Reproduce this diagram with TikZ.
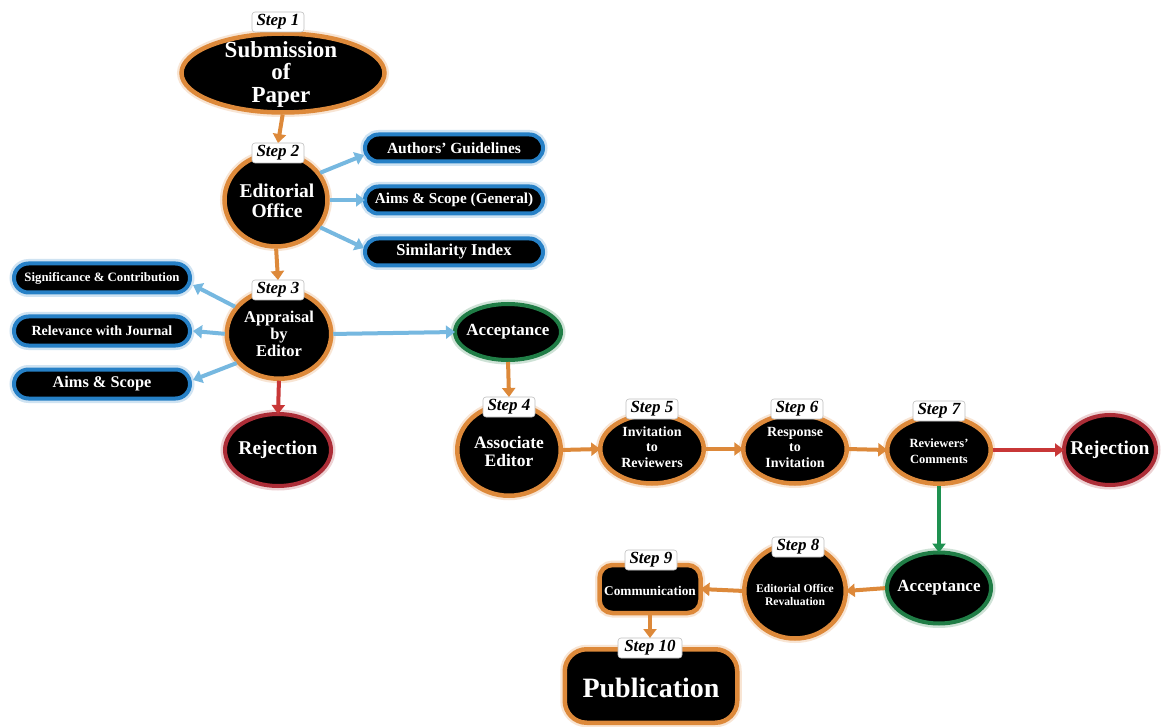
\documentclass[tikz,border=0pt]{standalone}
\usepackage{fontspec}
\setmainfont{Liberation Serif}
\usetikzlibrary{arrows.meta,shapes.geometric,shapes.misc,calc}
\definecolor{ora}{RGB}{221,137,58}
\definecolor{arrblue}{RGB}{118,184,224}
\definecolor{pillblue}{RGB}{38,128,198}
\definecolor{grn}{RGB}{32,125,70}
\definecolor{grnarr}{RGB}{30,145,80}
\definecolor{redb}{RGB}{172,45,55}
\definecolor{redarr}{RGB}{200,55,55}
\tikzset{
  every node/.style={inner sep=0pt, outer sep=0pt},
  halo/.style={preaction={draw=#1!22, line width=9pt}},
  stepcirc/.style={ellipse, fill=black, draw=ora, line width=4.5pt, halo=ora},
  acccirc/.style={ellipse, fill=black, draw=grn, line width=4pt, halo=grn},
  rejcirc/.style={ellipse, fill=black, draw=redb, line width=4pt, halo=redb},
  stepbox/.style={rectangle, fill=black, draw=ora, line width=4.5pt, halo=ora},
  pill/.style={rounded rectangle, fill=black, draw=pillblue, line width=4pt, halo=pillblue},
  txtw/.style={text=white, align=center},
  steplab/.style={fill=white, draw=black!25, line width=0.6pt, rounded corners=3pt,
    minimum width=52pt, minimum height=20pt,
    font=\fontsize{17}{17}\selectfont\bfseries\itshape},
  tipstyle/.style={-{Triangle[width=13pt,length=9pt]}},
  oarr/.style={draw=ora, line width=4pt, tipstyle, shorten <=2pt},
  barr/.style={draw=arrblue, line width=4pt, tipstyle, shorten <=2pt},
  rarr/.style={draw=redarr, line width=4pt, tipstyle, shorten <=2pt},
  garr/.style={draw=grnarr, line width=4pt, tipstyle, shorten <=2pt},
}
\begin{document}
\begin{tikzpicture}[x=1pt,y=-1pt]
\useasboundingbox[fill=white] (0,0) rectangle (1170,727);

% ---- shapes ----
\node[stepcirc, minimum width=203pt, minimum height=79pt] (s1) at (283,73) {};
\node[stepcirc, minimum width=103pt, minimum height=93pt] (s2) at (276,200) {};
\node[pill, minimum width=178pt, minimum height=27pt] (ag) at (454,148) {};
\node[pill, minimum width=178pt, minimum height=27pt] (asg) at (454,200) {};
\node[pill, minimum width=178pt, minimum height=27pt] (si) at (454,252) {};
\node[stepcirc, minimum width=104.5pt, minimum height=89.5pt] (s3) at (279,334) {};
\node[pill, minimum width=176pt, minimum height=29pt] (sc) at (102,278) {};
\node[pill, minimum width=176pt, minimum height=29pt] (rj) at (102,331) {};
\node[pill, minimum width=176pt, minimum height=29pt] (as) at (102,384) {};
\node[rejcirc, minimum width=106pt, minimum height=72pt] (rej1) at (278,450) {};
\node[acccirc, minimum width=106pt, minimum height=56pt] (acc1) at (508,332) {};
\node[stepcirc, minimum width=103.5pt, minimum height=91.5pt] (s4) at (509,450) {};
\node[stepcirc, minimum width=103.5pt, minimum height=69pt] (s5) at (652,449) {};
\node[stepcirc, minimum width=103.5pt, minimum height=69pt] (s6) at (795,449) {};
\node[stepcirc, minimum width=103.5pt, minimum height=67.5pt] (s7) at (939,450) {};
\node[rejcirc, minimum width=92pt, minimum height=70pt] (rej2) at (1110,450) {};
\node[acccirc, minimum width=104pt, minimum height=71pt] (acc2) at (939,588) {};
\node[stepcirc, minimum width=101.5pt, minimum height=95pt] (s8) at (795,591) {};
\node[stepbox, rounded corners=13pt, minimum width=101pt, minimum height=48pt] (s9) at (650,589) {};
\node[stepbox, rounded corners=22pt, minimum width=172.5pt, minimum height=73.5pt] (s10) at (651,686) {};

% ---- texts ----
\node[txtw, font=\fontsize{23}{22.5}\selectfont\bfseries] (s1t) at (281,74) {Submission\\of\\Paper};
\node[txtw, font=\fontsize{19.5}{20}\selectfont\bfseries] (s2t) at (277,201) {Editorial\\Office};
\node[txtw, font=\fontsize{15.5}{15}\selectfont\bfseries] (agt) at (ag) {Authors’ Guidelines};
\node[txtw, font=\fontsize{15.2}{15}\selectfont\bfseries] (asgt) at (asg) {Aims \& Scope (General)};
\node[txtw, font=\fontsize{16.5}{15}\selectfont\bfseries] (sit) at (si) {Similarity Index};
\node[txtw, font=\fontsize{16.5}{17}\selectfont\bfseries] (s3t) at (279,334) {Appraisal\\by\\Editor};
\node[txtw, font=\fontsize{12.8}{14}\selectfont\bfseries] (sct) at (sc) {Significance \& Contribution};
\node[txtw, font=\fontsize{14}{14}\selectfont\bfseries] (rjt) at (rj) {Relevance with Journal};
\node[txtw, font=\fontsize{16.3}{16}\selectfont\bfseries] (ast) at (as) {Aims \& Scope};
\node[txtw, font=\fontsize{19.5}{20}\selectfont\bfseries] (rej1t) at (rej1) {Rejection};
\node[txtw, font=\fontsize{17}{18}\selectfont\bfseries] (acc1t) at (acc1) {Acceptance};
\node[txtw, font=\fontsize{17.5}{18}\selectfont\bfseries] (s4t) at (509,452) {Associate\\Editor};
\node[txtw, font=\fontsize{14}{15.5}\selectfont\bfseries] (s5t) at (652,447) {Invitation\\to\\Reviewers};
\node[txtw, font=\fontsize{14}{15.5}\selectfont\bfseries] (s6t) at (795,447) {Response\\to\\Invitation};
\node[txtw, font=\fontsize{12.5}{16}\selectfont\bfseries] (s7t) at (939,451) {Reviewers’\\Comments};
\node[txtw, font=\fontsize{19.5}{20}\selectfont\bfseries] (rej2t) at (rej2) {Rejection};
\node[txtw, font=\fontsize{17}{18}\selectfont\bfseries] (acc2t) at (acc2) {Acceptance};
\node[txtw, font=\fontsize{11.6}{13.5}\selectfont\bfseries] (s8t) at (795,595) {Editorial Office\\Revaluation};
\node[txtw, font=\fontsize{13.3}{14}\selectfont\bfseries] (s9t) at (650,591) {Communication};
\node[txtw, font=\fontsize{28}{28}\selectfont\bfseries] (s10t) at (651,688) {Publication};

% ---- step labels ----
\node[steplab] (lab1) at (278,22) {Step 1};
\node[steplab] (lab2) at (278,153) {Step 2};
\node[steplab] (lab3) at (278,290) {Step 3};
\node[steplab] (lab4) at (509,407) {Step 4};
\node[steplab] (lab5) at (652,409) {Step 5};
\node[steplab] (lab6) at (797,409) {Step 6};
\node[steplab] (lab7) at (939,411) {Step 7};
\node[steplab] (lab8) at (798,547) {Step 8};
\node[steplab] (lab9) at (651,560) {Step 9};
\node[steplab, minimum width=64pt] (lab10) at (650,648) {Step 10};

% ---- connectors ----
\draw[oarr] (s1.south) -- (lab2.north);
\draw[barr] (s2.32) -- ($(ag.west)+(-1,7)$);
\draw[barr] (s2.east) -- (asg.west);
\draw[barr] (s2.-32) -- ($(si.west)+(-1,-4)$);
\draw[oarr] (s2.south) -- (lab3.north);
\draw[barr] (s3.148) -- ($(sc.east)+(3,7)$);
\draw[barr] (s3.west) -- ($(rj.east)+(3,0)$);
\draw[barr] (s3.-145) -- ($(as.east)+(3,-4)$);
\draw[rarr] (s3.south) -- (rej1.north);
\draw[barr] (s3.east) -- (acc1.west);
\draw[oarr] (acc1.south) -- (lab4.north);
\draw[oarr] (s4.east) -- (s5.west);
\draw[oarr] (s5.east) -- (s6.west);
\draw[oarr] (s6.east) -- (s7.west);
\draw[rarr] (s7.east) -- (rej2.west);
\draw[garr] (s7.south) -- (acc2.north);
\draw[oarr] (acc2.west) -- (s8.east);
\draw[oarr] (s8.west) -- (s9.east);
\draw[oarr] (s9.south) -- (lab10.north);
\end{tikzpicture}
\end{document}
